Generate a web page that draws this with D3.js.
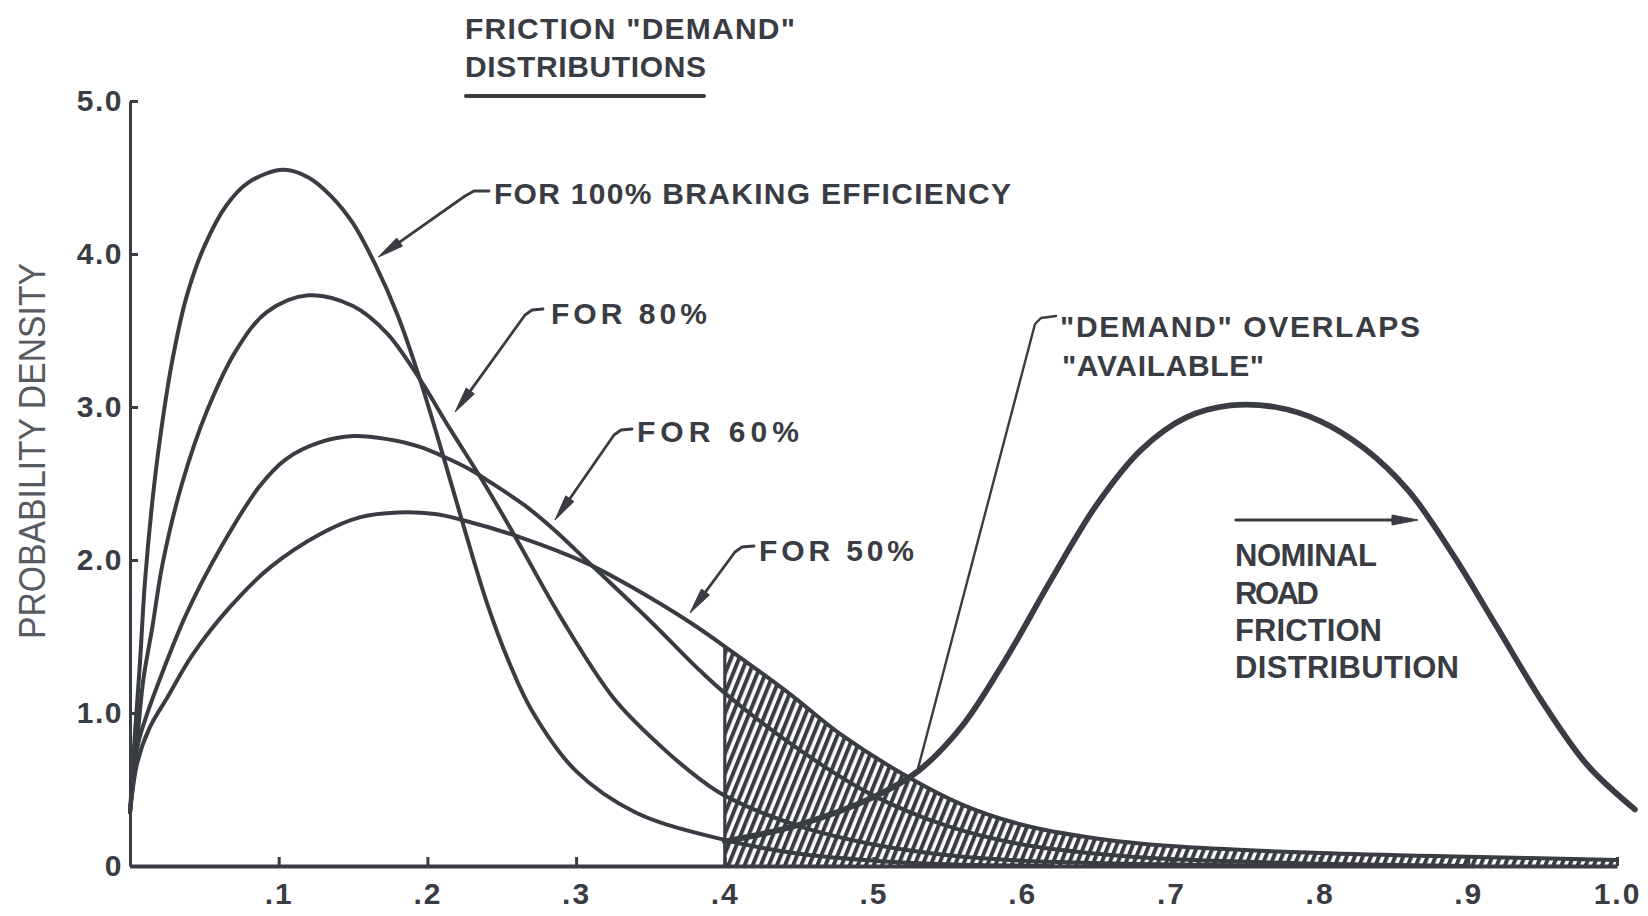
<!DOCTYPE html>
<html><head><meta charset="utf-8">
<script src="https://cdn.jsdelivr.net/npm/d3@7"></script>
<style>body{margin:0;background:#fff}</style></head>
<body><svg id="chart" width="1648" height="916"></svg>
<script>
// ---------- data ----------
const xTicks = [0.1,0.2,0.3,0.4,0.5,0.6,0.7,0.8,0.9,1.0];
const xTickLabels = [".1",".2",".3",".4",".5",".6",".7",".8",".9","1.0"];
const yTicks = [0,1,2,3,4,5];
const yTickLabels = ["0","1.0","2.0","3.0","4.0","5.0"];

const demand100 = [[0.0,0.35],[0.003,0.82],[0.0067,1.33],[0.010,1.85],[0.015,2.38],[0.020,2.78],[0.028,3.28],[0.038,3.72],[0.050,4.05],[0.065,4.32],[0.080,4.47],[0.103,4.55],[0.120,4.50],[0.135,4.38],[0.150,4.20],[0.165,3.93],[0.180,3.60],[0.195,3.18],[0.210,2.70],[0.225,2.20],[0.240,1.72],[0.255,1.33],[0.270,1.02],[0.300,0.62],[0.340,0.35],[0.400,0.17],[0.450,0.08],[0.500,0.035],[0.550,0.012],[0.620,0.0]];
const demand80 = [[0.0,0.35],[0.005,0.84],[0.009,1.22],[0.015,1.56],[0.022,1.98],[0.035,2.50],[0.052,2.98],[0.072,3.38],[0.092,3.62],[0.120,3.73],[0.150,3.66],[0.173,3.48],[0.195,3.18],[0.215,2.86],[0.237,2.52],[0.258,2.17],[0.290,1.62],[0.325,1.10],[0.355,0.80],[0.383,0.57],[0.400,0.46],[0.450,0.26],[0.500,0.14],[0.550,0.07],[0.600,0.035],[0.700,0.01],[0.800,0.0]];
const demand60 = [[0.0,0.35],[0.005,0.78],[0.011,0.98],[0.022,1.27],[0.038,1.65],[0.061,2.08],[0.087,2.48],[0.105,2.66],[0.128,2.77],[0.150,2.81],[0.173,2.79],[0.195,2.74],[0.210,2.68],[0.229,2.59],[0.242,2.51],[0.265,2.36],[0.285,2.20],[0.310,1.97],[0.350,1.60],[0.383,1.28],[0.400,1.13],[0.450,0.76],[0.500,0.46],[0.550,0.26],[0.600,0.14],[0.650,0.08],[0.700,0.045],[0.800,0.015],[0.900,0.0]];
const demand50 = [[0.0,0.35],[0.005,0.68],[0.013,0.90],[0.025,1.10],[0.042,1.38],[0.067,1.69],[0.094,1.95],[0.128,2.17],[0.155,2.28],[0.180,2.31],[0.205,2.30],[0.224,2.26],[0.262,2.15],[0.307,1.98],[0.338,1.82],[0.377,1.59],[0.405,1.40],[0.443,1.13],[0.478,0.86],[0.520,0.60],[0.560,0.40],[0.600,0.27],[0.650,0.18],[0.700,0.13],[0.800,0.085],[0.900,0.06],[1.000,0.04]];
const roadFriction = [[0.40,0.16],[0.45,0.27],[0.50,0.45],[0.53,0.62],[0.56,0.92],[0.59,1.37],[0.62,1.88],[0.65,2.36],[0.68,2.72],[0.71,2.93],[0.74,3.01],[0.77,3.00],[0.80,2.91],[0.83,2.73],[0.86,2.45],[0.89,2.03],[0.92,1.55],[0.95,1.07],[0.98,0.66],[1.012,0.37]];

const titleLines = ['FRICTION "DEMAND"', 'DISTRIBUTIONS'];
const demandLabels = ['FOR 100% BRAKING EFFICIENCY','FOR 80%','FOR 60%','FOR 50%'];
const overlapLines = ['"DEMAND" OVERLAPS','"AVAILABLE"'];
const roadLines = ['NOMINAL','ROAD','FRICTION','DISTRIBUTION'];
const yAxisTitle = 'PROBABILITY DENSITY';
const overlapFrom = 0.4, overlapTo = 1.0;

// ---------- drawing ----------
const ink = "#3a3c43";
const font = "'Liberation Sans', Arial, sans-serif";
const svg = d3.select("#chart");
svg.append("rect").attr("width",1648).attr("height",916).attr("fill","#ffffff");

const x = d3.scaleLinear().domain([0,1]).range([130,1617]);
const y = d3.scaleLinear().domain([0,5]).range([866,101]);

const defs = svg.append("defs");
const pat = defs.append("pattern").attr("id","hatch").attr("patternUnits","userSpaceOnUse")
  .attr("width",7.5).attr("height",7.5).attr("patternTransform","rotate(22)");
pat.append("rect").attr("width",7.5).attr("height",7.5).attr("fill","#fff");
pat.append("line").attr("x1",2).attr("y1",-1).attr("x2",2).attr("y2",8.5)
  .attr("stroke",ink).attr("stroke-width",4);
defs.append("clipPath").attr("id","overlapClip").append("rect")
  .attr("x",x(overlapFrom)).attr("y",0).attr("width",x(overlapTo)-x(overlapFrom)).attr("height",y(0));

const curve = d3.curveCatmullRom.alpha(0.5);
const area = d3.area().x(d=>x(d[0])).y0(y(0)).y1(d=>y(d[1])).curve(curve);
const line = d3.line().x(d=>x(d[0])).y(d=>y(d[1])).curve(curve);

// hatched overlap region
svg.append("path").datum(demand50).attr("d",area).attr("fill","url(#hatch)")
  .attr("clip-path","url(#overlapClip)");
// left edge of hatch
const edgeY = (()=>{
  const p = svg.append("path").attr("d", line(demand50)).attr("fill","none");
  const node = p.node(); const L = node.getTotalLength();
  let lo=0, hi=L;
  for(let i=0;i<40;i++){const m=(lo+hi)/2; if(node.getPointAtLength(m).x < x(overlapFrom)) lo=m; else hi=m;}
  const yy = node.getPointAtLength(lo).y; p.remove(); return yy;})();
svg.append("line").attr("x1",x(overlapFrom)).attr("x2",x(overlapFrom)).attr("y1",edgeY).attr("y2",y(0))
  .attr("stroke",ink).attr("stroke-width",3.2);

// demand curves
[demand100,demand80,demand60,demand50].forEach(s=>{
  svg.append("path").datum(s).attr("d",line).attr("fill","none")
    .attr("stroke",ink).attr("stroke-width",4).attr("stroke-linejoin","round").attr("stroke-linecap","round");
});
// road friction curve
svg.append("path").datum(roadFriction).attr("d",line).attr("fill","none")
  .attr("stroke",ink).attr("stroke-width",5.8).attr("stroke-linecap","round");

// axes
const yAxis = d3.axisLeft(y).tickValues(yTicks).tickFormat((d,i)=>yTickLabels[i])
  .tickSizeInner(-8).tickSizeOuter(0).tickPadding(7);
const gy = svg.append("g").attr("transform",`translate(${x(0)},0)`).call(yAxis);
gy.select(".domain").attr("stroke",ink).attr("stroke-width",3);
gy.selectAll(".tick line").attr("stroke",ink).attr("stroke-width",3);
gy.selectAll(".tick text").attr("fill",ink).attr("font-family",font).attr("font-weight","bold")
  .attr("font-size",30).attr("letter-spacing",1.5);

const xAxis = d3.axisBottom(x).tickValues(xTicks).tickFormat((d,i)=>xTickLabels[i])
  .tickSizeInner(-9).tickSizeOuter(0).tickPadding(17);
const gx = svg.append("g").attr("transform",`translate(0,${y(0)})`).call(xAxis);
gx.select(".domain").attr("stroke",ink).attr("stroke-width",4);
gx.selectAll(".tick line").attr("stroke",ink).attr("stroke-width",3);
gx.selectAll(".tick text").attr("fill",ink).attr("font-family",font).attr("font-weight","bold")
  .attr("font-size",30).attr("letter-spacing",2);

// text helper
function label(str, x1, x2, base, size, opts={}){
  return svg.append("text").attr("x",x1).attr("y",base).text(str)
    .attr("font-family",font).attr("font-weight",opts.weight||"bold").attr("font-size",size)
    .attr("fill",opts.fill||ink).attr("textLength",x2-x1).attr("lengthAdjust",opts.adjust||"spacing");
}
// arrow helper: path through pts, arrowhead at last point
function leader(pts, head=true, w=2.8){
  const p = d3.path();
  const tip = pts[pts.length-1], prev = pts[pts.length-2];
  const dx = tip[0]-prev[0], dy = tip[1]-prev[1], len = Math.hypot(dx,dy);
  const ux = dx/len, uy = dy/len, L = head?26:0, hw = 5;
  p.moveTo(pts[0][0],pts[0][1]);
  for(let i=1;i<pts.length-1;i++) p.lineTo(pts[i][0],pts[i][1]);
  p.lineTo(tip[0]-ux*L*0.6, tip[1]-uy*L*0.6);
  svg.append("path").attr("d",p.toString()).attr("fill","none").attr("stroke",ink)
    .attr("stroke-width",w).attr("stroke-linejoin","round").attr("stroke-linecap","round");
  if(head){
    const bx = tip[0]-ux*L, by = tip[1]-uy*L;
    svg.append("path").attr("d",`M${tip[0]},${tip[1]}L${bx-uy*hw},${by+ux*hw}L${bx+uy*hw},${by-ux*hw}Z`)
      .attr("fill",ink).attr("stroke",ink).attr("stroke-width",1).attr("stroke-linejoin","round");
  }
}

// title
label(titleLines[0], 465, 795, 39, 30);
label(titleLines[1], 465, 706, 77, 30);
svg.append("line").attr("x1",466).attr("x2",704).attr("y1",96).attr("y2",96)
  .attr("stroke",ink).attr("stroke-width",4).attr("stroke-linecap","round");

// demand labels + leaders
label(demandLabels[0], 494, 1011, 204, 30);
leader([[489,191],[474,191],[465,196],[x(0.167),y(3.98)]]);
label(demandLabels[1], 551, 707, 324, 30);
leader([[543,309],[532,310],[525,315],[x(0.2186),y(2.967)]]);
label(demandLabels[2], 637, 799, 442, 30);
leader([[632,429],[621,430],[614,435],[x(0.2858),y(2.261)]]);
label(demandLabels[3], 759, 914, 561, 30);
leader([[754,546],[742,547],[735,552],[x(0.3766),y(1.654)]]);

// overlap annotation
label(overlapLines[0], 1060, 1420, 337, 30);
label(overlapLines[1], 1062, 1264, 376, 30);
leader([[1056,316],[1041,318],[1035,324],[x(0.530),y(0.64)]], false, 2.4);

// road friction annotation
label(roadLines[0], 1235, 1377, 566, 31);
label(roadLines[1], 1235, 1319, 604, 31);
label(roadLines[2], 1235, 1382, 641, 31);
label(roadLines[3], 1235, 1459, 678, 31);
leader([[1236,520],[1418,520]], true, 3.2);

// y-axis title
svg.append("text").attr("transform","translate(45,451) rotate(-90)").attr("text-anchor","middle")
  .text(yAxisTitle).attr("font-family",font).attr("font-size",36).attr("fill","#575a60")
  .attr("textLength",376).attr("lengthAdjust","spacingAndGlyphs");
</script>
</body></html>
